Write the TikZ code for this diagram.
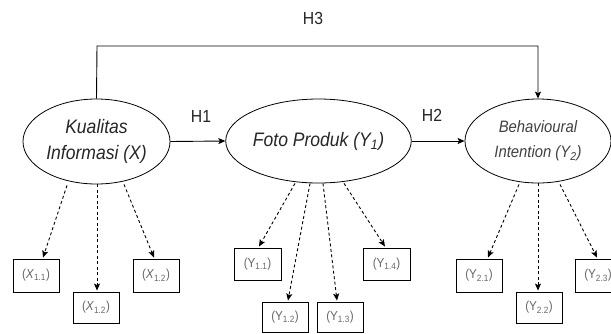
\documentclass[tikz,border=0pt]{standalone}
\usepackage{fontspec}
\setmainfont[FakeStretch=0.9]{Liberation Sans}
\usetikzlibrary{shapes.geometric,arrows.meta,calc}
\begin{document}
\begin{tikzpicture}[x=1pt,y=-1pt,
  latent/.style={draw=black, line width=0.8pt, ellipse, inner sep=0pt, align=center,
    text=black!85, font=\fontsize{19.5}{26}\selectfont\itshape},
  indicator/.style={draw=black, line width=0.9pt, minimum width=46pt, minimum height=32pt,
    inner sep=0pt, text=black!60, font=\fontsize{13}{15}\selectfont},
  causal/.style={line width=0.9pt, -{Stealth[length=7pt,width=6pt,inset=1.5pt]}},
  loading/.style={causal, dash pattern=on 3pt off 2.5pt},
  hyp/.style={font=\fontsize{17.5}{20}\selectfont, text=black!85}
]
\useasboundingbox (0,0) rectangle (611,333);
\clip (0,0) rectangle (611,333);

% latent constructs
\node[latent, minimum width=147pt, minimum height=85pt] (e1) at (96.5,141.5)
  {Kualitas\\Informasi (X)};
\node[latent, minimum width=149pt, minimum height=84pt] (e2) at (318.5,141)
  {Foto Produk (Y\textsubscript{1})};
\node[latent, minimum width=146pt, minimum height=84pt, text=black!75,
  font=\fontsize{16.5}{25}\selectfont\itshape] (e3) at (538,141)
  {Behavioural\\Intention (Y\textsubscript{2})};

% hypothesis labels
\node[hyp] (h1) at (201,116) {H1};
\node[hyp] (h2) at (432,115) {H2};
\node[hyp] (h3) at (313,18) {H3};

% structural paths
\draw[causal] (e1.east) -- (e2.west);
\draw[causal] (e2.east) -- (e3.west);
\coordinate (top) at (97,46);
\draw[causal] (e1.north) -- (top) -| (e3.north);

% indicators of X
\node[indicator, minimum height=33pt] (x11) at (36,275.5) {(\textit{X}\textsubscript{1.1})};
\node[indicator, minimum height=31pt] (x12a) at (96,307.5) {(\textit{X}\textsubscript{1.2})};
\node[indicator, minimum height=33pt] (x12b) at (156,275.5) {(\textit{X}\textsubscript{1.2})};

% indicators of Y1
\node[indicator, minimum width=47pt] (y11) at (257.5,264) {(Y\textsubscript{1.1})};
\node[indicator, minimum height=30pt] (y12) at (285,317) {(Y\textsubscript{1.2})};
\node[indicator, minimum height=30pt] (y13) at (340,317) {(Y\textsubscript{1.3})};
\node[indicator, minimum width=47pt] (y14) at (386.5,264) {(Y\textsubscript{1.4})};

% indicators of Y2
\node[indicator, minimum height=33pt] (y21) at (479,275.5) {(Y\textsubscript{2.1})};
\node[indicator, minimum height=31pt] (y22) at (539,307.5) {(Y\textsubscript{2.2})};
\node[indicator, minimum height=33pt] (y23) at (598,275.5) {(Y\textsubscript{2.3})};

% measurement loadings
\draw[loading] ($(e1.south)+(-29.5,1)$) -- ($(x11.north)+(7,-1)$);
\draw[loading] ($(e1.south)+(0.5,0)$) -- ($(x12a.north)+(1,-1)$);
\draw[loading] ($(e1.south)+(27.5,0)$) -- ($(x12b.north)+(-2,-1)$);

\draw[loading] ($(e2.south)+(-23.5,0)$) -- ($(y11.north)+(1.5,-1)$);
\draw[loading] ($(e2.south)+(-8.5,0)$) -- ($(y12.north)+(3,-1)$);
\draw[loading] ($(e2.south)+(4.5,0)$) -- ($(y13.north)+(-3,-1)$);
\draw[loading] ($(e2.south)+(25.5,0)$) -- ($(y14.north)+(-1.5,-1)$);

\draw[loading] ($(e3.south)+(-19,1)$) -- ($(y21.north)+(9,-1)$);
\draw[loading] ($(e3.south)+(0,0)$) -- ($(y22.north)+(-1,-1)$);
\draw[loading] ($(e3.south)+(22,1)$) -- ($(y23.north)+(-1,-1)$);
\end{tikzpicture}
\end{document}
